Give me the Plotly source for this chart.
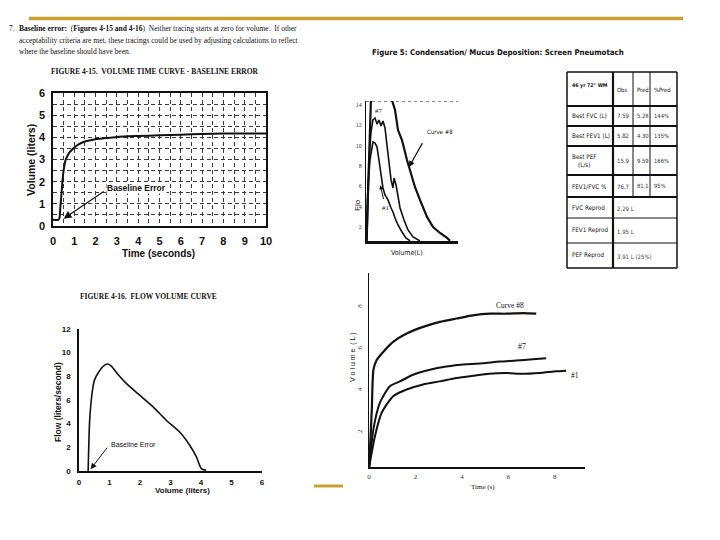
import plotly.graph_objects as go

W, H = 720, 540
def X(px): return px / W
def Y(py): return 1 - py / H

# ---------------- data ----------------
# Figure 4-15 : volume-time curve with baseline error
vt_time = [0, 0.25, 0.3, 0.35, 0.4, 0.48, 0.59, 0.7, 0.79, 0.9, 1.0, 1.2, 1.43, 2.0, 2.5, 3.0, 4.0, 5.0, 6.0, 7.0, 8.0, 9.0, 10.0]
vt_volume = [0.28, 0.28, 0.35, 0.9, 1.47, 2.37, 2.97, 3.2, 3.34, 3.45, 3.54, 3.68, 3.79, 3.91, 3.97, 4.02, 4.06, 4.09, 4.12, 4.15, 4.17, 4.17, 4.17]

# Figure 4-16 : flow-volume curve
fv_volume = [0.3, 0.35, 0.44, 0.51, 0.68, 0.84, 0.95, 1.06, 1.28, 1.55, 1.99, 2.43, 2.86, 3.3, 3.63, 3.85, 4.01, 4.17]
fv_flow = [0.0, 4.3, 6.8, 7.7, 8.5, 8.95, 9.04, 8.87, 8.16, 7.4, 6.41, 5.42, 4.29, 3.3, 2.18, 1.19, 0.2, 0.06]

# Figure 5 : flow-volume curves (screen pneumotach)
c8_fv_vol = [0.05, 0.2, 0.4, 0.5, 0.7, 2.3, 2.54, 2.84, 3.13, 3.52, 4.01, 4.31, 4.79, 5.28, 5.97, 6.56, 7.24, 7.93, 8.22]
c8_fv_flow = [0.7, 5.0, 11.0, 15.0, 17.0, 17.0, 14.49, 13.51, 11.54, 10.56, 8.59, 7.61, 5.94, 4.66, 2.99, 2.0, 1.41, 0.92, 0.63]
c7_fv_vol = [0.1, 0.2, 0.29, 0.49, 0.68, 0.88, 1.08, 1.27, 1.47, 1.66, 1.86, 2.05, 2.25, 2.45, 2.64, 2.74, 2.94, 3.13, 3.33, 3.72, 4.11, 4.6, 5.28]
c7_fv_flow = [0.63, 4.66, 8.59, 11.35, 12.53, 12.72, 12.13, 12.53, 11.94, 12.43, 11.74, 10.07, 8.1, 6.63, 5.84, 6.82, 6.13, 4.86, 3.87, 2.69, 1.71, 1.02, 0.63]
c1_fv_vol = [0.0, 0.1, 0.2, 0.39, 0.59, 0.68, 0.88, 1.08, 1.27, 1.47, 1.66, 1.86, 2.15, 2.45, 2.64, 2.84, 3.13, 3.52, 3.91, 4.31]
c1_fv_flow = [0.63, 3.18, 6.13, 8.59, 10.07, 10.36, 10.26, 9.87, 8.59, 7.12, 5.84, 5.15, 4.66, 3.87, 3.48, 2.89, 2.2, 1.51, 0.92, 0.63]

# Figure 5 : volume-time curves
c8_vt_time = [0.01, 0.12, 0.19, 0.33, 0.62, 1.04, 1.62, 2.33, 3.05, 3.77, 4.48, 5.2, 5.91, 6.63, 7.2]
c8_vt_vol = [0.36, 3.09, 4.99, 5.46, 5.86, 6.33, 6.73, 7.05, 7.29, 7.45, 7.6, 7.68, 7.68, 7.71, 7.68]
c7_vt_time = [0.01, 0.19, 0.47, 0.9, 1.33, 1.9, 2.62, 3.33, 4.19, 4.9, 5.62, 6.34, 7.05, 7.63]
c7_vt_vol = [0.36, 2.15, 3.42, 4.21, 4.44, 4.76, 5.0, 5.15, 5.26, 5.31, 5.39, 5.44, 5.5, 5.55]
c1_vt_time = [0.01, 0.26, 0.55, 1.04, 1.62, 2.33, 3.05, 3.77, 4.48, 5.19, 5.91, 6.62, 7.34, 8.06, 8.49]
c1_vt_vol = [0.36, 1.84, 2.95, 3.73, 4.05, 4.29, 4.44, 4.6, 4.71, 4.81, 4.84, 4.8, 4.84, 4.92, 4.95]

# Table
tbl_header = ['46 yr 72" WM', "Obs", "Pred", "%Pred"]
tbl_labels = ["Best FVC (L)", "Best FEV1 (L)", "Best PEF<br>(L/s)", "FEV1/FVC %"]
tbl_obs = ["7.59", "5.82", "15.9", "76.7"]
tbl_pred = ["5.28", "4.30", "9.59", "81.1"]
tbl_pct = ["144%", "135%", "166%", "95%"]
repro_labels = ["FVC Reprod", "FEV1 Reprod", "PEF Reprod"]
repro_values = ["2.29 L", "1.95 L", "3.91 L (25%)"]

# Tick labels
vt_xticks = list(range(0, 11))
vt_yticks = list(range(0, 7))
fv_xticks = list(range(0, 7))
fv_yticks = list(range(0, 13, 2))
f5_flow_ticks = [2, 4, 6, 8, 10, 12, 14]
f5_time_ticks = [0, 2, 4, 6, 8]
f5_vol_ticks = [2, 4, 6, 8]

# ---------------- figure ----------------
SANS = "Liberation Sans, Arial, sans-serif"
SERIF = "Liberation Serif, Times New Roman, serif"
NARROW = "DejaVu Sans Condensed, Liberation Sans Narrow, sans-serif"
INK = "#111111"
GOLD = "#C9A22E"

fig = go.Figure()
fig.add_trace(go.Scatter(x=vt_time, y=vt_volume, mode="lines", line=dict(color=INK, width=2, shape="spline", smoothing=0.6), xaxis="x", yaxis="y"))
fig.add_trace(go.Scatter(x=fv_volume, y=fv_flow, mode="lines", line=dict(color=INK, width=1.6, shape="spline", smoothing=0.6), xaxis="x2", yaxis="y2"))
fig.add_trace(go.Scatter(x=c8_fv_vol, y=c8_fv_flow, mode="lines", line=dict(color=INK, width=2.2), xaxis="x3", yaxis="y3"))
fig.add_trace(go.Scatter(x=c7_fv_vol, y=c7_fv_flow, mode="lines", line=dict(color=INK, width=1.6), xaxis="x3", yaxis="y3"))
fig.add_trace(go.Scatter(x=c1_fv_vol, y=c1_fv_flow, mode="lines", line=dict(color=INK, width=1.6), xaxis="x3", yaxis="y3"))
fig.add_trace(go.Scatter(x=c8_vt_time, y=c8_vt_vol, mode="lines", line=dict(color=INK, width=2.2, shape="spline", smoothing=0.6), xaxis="x4", yaxis="y4"))
fig.add_trace(go.Scatter(x=c7_vt_time, y=c7_vt_vol, mode="lines", line=dict(color=INK, width=2.0, shape="spline", smoothing=0.6), xaxis="x4", yaxis="y4"))
fig.add_trace(go.Scatter(x=c1_vt_time, y=c1_vt_vol, mode="lines", line=dict(color=INK, width=2.0, shape="spline", smoothing=0.6), xaxis="x4", yaxis="y4"))

gridstyle = dict(showgrid=True, gridcolor="#3a3a3a", griddash="4px,3px", gridwidth=1)
minorgrid = dict(dtick=0.5, showgrid=True, gridcolor="#3a3a3a", griddash="4px,3px", gridwidth=1)
layout = dict(
    width=W, height=H, margin=dict(l=0, r=0, t=0, b=0, autoexpand=False),
    paper_bgcolor="white", plot_bgcolor="rgba(0,0,0,0)", showlegend=False,
    # Figure 4-15
    xaxis=dict(domain=[X(53), X(266)], range=[0, 10], anchor="y", tickvals=vt_xticks, ticks="", tickangle=0,
               tickfont=dict(family=SANS, size=11, color=INK, weight="bold"), ticklabelstandoff=4,
               showline=True, linecolor=INK, linewidth=1.5, mirror=True, zeroline=False,
               minor=minorgrid, **gridstyle),
    yaxis=dict(domain=[Y(226), Y(93)], range=[0, 6], anchor="x", tickvals=vt_yticks, ticks="", tickangle=0,
               tickfont=dict(family=SANS, size=11, color=INK, weight="bold"), ticklabelstandoff=4,
               showline=True, linecolor=INK, linewidth=1.5, mirror=True, zeroline=False,
               minor=minorgrid, **gridstyle),
    # Figure 4-16
    xaxis2=dict(domain=[X(79), X(262)], range=[0, 6], anchor="y2", tickvals=fv_xticks, ticks="", tickangle=0,
                tickfont=dict(family=SANS, size=8, color=INK, weight="bold"), ticklabelstandoff=3,
                showline=True, linecolor=INK, linewidth=1.5, showgrid=False, zeroline=False),
    yaxis2=dict(domain=[Y(471), Y(329)], range=[0, 12], anchor="x2", tickvals=fv_yticks, ticks="", tickangle=0,
                tickfont=dict(family=SANS, size=8, color=INK, weight="bold"), ticklabelstandoff=5,
                showline=True, linecolor=INK, linewidth=1.5, showgrid=False, zeroline=False),
    # Figure 5 flow-volume
    xaxis3=dict(domain=[X(366), X(458)], range=[0, 9], anchor="y3", showticklabels=False, ticks="",
                showline=True, linecolor=INK, linewidth=3, showgrid=False, zeroline=False),
    yaxis3=dict(domain=[Y(241), Y(101)], range=[0.62, 14.4], anchor="x3", tickvals=f5_flow_ticks, ticks="", tickangle=0,
                tickfont=dict(family=SERIF, size=6, color="#333333"), ticklabelstandoff=2,
                showline=True, linecolor=INK, linewidth=1, showgrid=False, zeroline=False),
    # Figure 5 volume-time
    xaxis4=dict(domain=[X(369), X(585)], range=[0, 9.3], anchor="y4", tickvals=f5_time_ticks, ticks="", tickangle=0,
                tickfont=dict(family=SERIF, size=7, color="#333333"), ticklabelstandoff=2,
                showline=True, linecolor=INK, linewidth=2, showgrid=False, zeroline=False),
    yaxis4=dict(domain=[Y(467), Y(273)], range=[0.34, 9.63], anchor="x4", tickvals=f5_vol_ticks, ticks="",
                tickangle=-90, tickfont=dict(family=SERIF, size=7, color="#333333"), ticklabelstandoff=3,
                showline=True, linecolor=INK, linewidth=1, showgrid=False, zeroline=False),
)
fig.update_layout(**layout)

shapes = []
ann = []

def txt(px, py, text, size, family, xanchor="center", yanchor="middle", color=INK, angle=0, weight="normal"):
    ann.append(dict(x=X(px), y=Y(py), xref="paper", yref="paper", text=text, showarrow=False,
                    xanchor=xanchor, yanchor=yanchor, textangle=angle,
                    font=dict(family=family, size=size, color=color, weight=weight)))

# gold rules
shapes.append(dict(type="line", xref="paper", yref="paper", x0=X(29), x1=X(683), y0=Y(18.5), y1=Y(18.5), line=dict(color=GOLD, width=3.5)))
shapes.append(dict(type="line", xref="paper", yref="paper", x0=X(314), x1=X(343), y0=Y(486), y1=Y(486), line=dict(color=GOLD, width=3)))

# paragraph
txt(7, 29, "7.", 7.5, SERIF, xanchor="left")
txt(17, 29, "<b>Baseline error:</b>  (<b>Figures 4-15 and 4-16</b>)  Neither tracing starts at zero for volume.  If other", 7.5, SERIF, xanchor="left")
txt(17, 40, "acceptability criteria are met, these tracings could be used by adjusting calculations to reflect", 7.5, SERIF, xanchor="left")
txt(17, 51, "where the baseline should have been.", 7.5, SERIF, xanchor="left")

# figure titles
txt(155, 71, "FIGURE 4-15.  VOLUME TIME CURVE - BASELINE ERROR", 7.5, SERIF, weight="bold")
txt(148, 296, "FIGURE 4-16.  FLOW VOLUME CURVE", 7.5, SERIF, weight="bold")
txt(498, 53, "Figure 5: Condensation/ Mucus Deposition: Screen Pneumotach", 7.8, NARROW, weight="bold")

# axis titles
txt(31, 160, "Volume (liters)", 10.5, SANS, angle=-90, weight="bold")
txt(158, 254, "Time (seconds)", 10, SANS, weight="bold")
txt(58, 402, "Flow (liters/second)", 8.5, SANS, angle=-90, weight="bold")
txt(182, 490, "Volume (liters)", 8, SANS, weight="bold")
txt(357, 205, "Flo", 8, SANS, angle=-90)
txt(407, 253, "Volume(L)", 7, NARROW)
txt(353, 357, "V o l u m e  ( L )", 7, SANS, angle=-90)
txt(483, 487, "Time (s)", 7, SERIF)

# Baseline error annotations
ann.append(dict(x=2.5, y=1.7, xref="x", yref="y", text="Baseline Error", showarrow=False, xanchor="left",
                bgcolor="white", borderpad=0,
                font=dict(family=SANS, size=8.5, color=INK, weight="bold")))
ann.append(dict(x=0.5, y=0.33, ax=2.45, ay=1.6, xref="x", yref="y", axref="x", ayref="y", text="",
                showarrow=True, arrowhead=2, arrowsize=1.3, arrowwidth=1.2, arrowcolor=INK))
ann.append(dict(x=0.98, y=2.2, xref="x2", yref="y2", text="Baseline Error", showarrow=False, xanchor="left",
                font=dict(family=SANS, size=7, color=INK)))
ann.append(dict(x=0.38, y=0.15, ax=0.96, ay=2.1, xref="x2", yref="y2", axref="x2", ayref="y2", text="",
                showarrow=True, arrowhead=2, arrowsize=1.2, arrowwidth=1, arrowcolor=INK))

# Figure 5 labels
ann.append(dict(x=1.27, y=13.4, xref="x3", yref="y3", text="#7", showarrow=False, font=dict(family=SERIF, size=7, color=INK)))
ann.append(dict(x=5.77, y=11.35, xref="x3", yref="y3", text="Curve #8", showarrow=False, xanchor="left", font=dict(family=NARROW, size=6, color=INK)))
ann.append(dict(x=4.2, y=7.9, ax=5.6, ay=10.4, xref="x3", yref="y3", axref="x3", ayref="y3", text="",
                showarrow=True, arrowhead=2, arrowsize=1, arrowwidth=1.2, arrowcolor=INK))
ann.append(dict(x=1.96, y=3.9, xref="x3", yref="y3", text="#1", showarrow=False, font=dict(family=SERIF, size=7, color=INK)))
ann.append(dict(x=1.4, y=6.1, ax=1.75, ay=4.6, xref="x3", yref="y3", axref="x3", ayref="y3", text="",
                showarrow=True, arrowhead=2, arrowsize=0.8, arrowwidth=1, arrowcolor=INK))
shapes.append(dict(type="line", xref="x3", yref="y3", x0=0, x1=9, y0=14.4, y1=14.4, line=dict(color=INK, width=1, dash="dot")))

ann.append(dict(x=6.05, y=8.05, xref="x4", yref="y4", text="Curve #8", showarrow=False, font=dict(family=SERIF, size=7.5, color=INK)))
ann.append(dict(x=6.57, y=6.1, xref="x4", yref="y4", text="#7", showarrow=False, font=dict(family=SERIF, size=8, color=INK)))
ann.append(dict(x=8.6, y=4.72, xref="x4", yref="y4", text="#1", showarrow=False, xanchor="left", font=dict(family=SERIF, size=7.5, color=INK)))

# ---------------- table (drawn) ----------------
cx = [567, 613, 633, 650, 677]
ry = [72, 106, 126, 146, 175, 197, 218, 243, 268]
def hline(py, x0, x1, w):
    shapes.append(dict(type="line", xref="paper", yref="paper", x0=X(x0), x1=X(x1), y0=Y(py), y1=Y(py), line=dict(color=INK, width=w)))
def vline(px, y0, y1, w):
    shapes.append(dict(type="line", xref="paper", yref="paper", x0=X(px), x1=X(px), y0=Y(y0), y1=Y(y1), line=dict(color=INK, width=w)))
hline(ry[0], cx[0], cx[4], 1.5)
hline(ry[-1], cx[0], cx[4], 1.5)
vline(cx[0], ry[0], ry[-1], 1.5)
vline(cx[4], ry[0], ry[-1], 1.5)
widths = [2.2, 2.2, 2.2, 2.2, 2.2, 1, 1]
for i, py in enumerate(ry[1:-1]):
    hline(py, cx[0], cx[4], widths[i])
vline(cx[1], ry[0], ry[-1], 2.2)
vline(cx[2], ry[0], ry[5], 1)
vline(cx[3], ry[0], ry[5], 1)

TF = NARROW
txt(cx[0] + 3, 86, tbl_header[0], 5.2, TF, xanchor="left", weight="bold")
for j in range(1, 4):
    txt(cx[j] + 1.5, 90, tbl_header[j], 5.8, TF, xanchor="left")
for i in range(4):
    yc = (ry[i + 1] + ry[i + 2]) / 2
    txt(cx[0] + 3, yc, tbl_labels[i], 6.3, TF, xanchor="left")
    txt(cx[1] + 2, yc, tbl_obs[i], 6.0, TF, xanchor="left", color="#333333")
    txt(cx[2] + 1.5, yc, tbl_pred[i], 5.8, TF, xanchor="left", color="#333333")
    txt(cx[3] + 1.5, yc, tbl_pct[i], 5.8, TF, xanchor="left", color="#333333")
for i in range(3):
    yc = (ry[i + 5] + ry[i + 6]) / 2
    txt(cx[0] + 3, yc, repro_labels[i], 6.3, TF, xanchor="left")
    txt(cx[1] + 2, yc + 1, repro_values[i], 6.0, TF, xanchor="left", color="#444444")

fig.update_layout(shapes=shapes, annotations=ann)
fig.write_html("out.html", config={"displayModeBar": False},
               post_script="document.body.style.margin='0px';document.body.style.padding='0px';")
